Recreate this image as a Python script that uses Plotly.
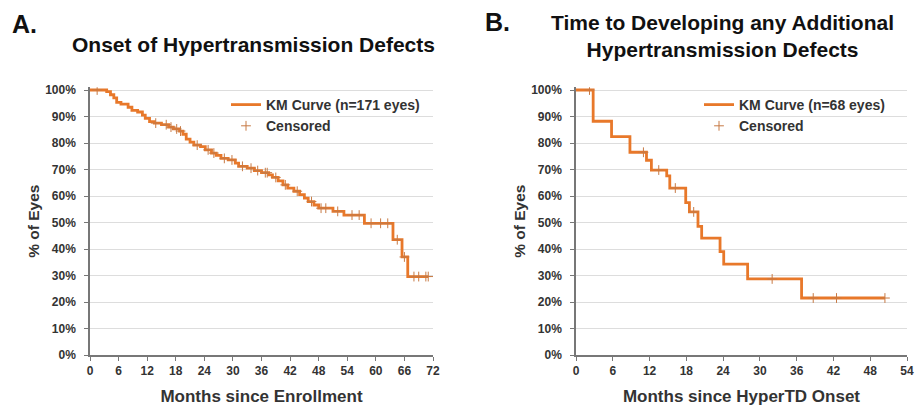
import plotly.graph_objects as go
import numpy as np

# ---- Panel A data (KM curve, n=171 eyes) ----
a_times = [0, 3.5, 4.3, 5.0, 5.6, 6.5, 8.0, 8.8, 10.0, 11.0, 11.6, 12.5, 13.5, 15.0, 16.5, 17.5,
           18.8, 19.5, 20.2, 21.0, 21.8, 23.2, 24.2, 25.5, 26.5, 27.5, 29.0, 30.5, 31.2, 33.0,
           34.5, 36.0, 37.5, 38.3, 39.5, 40.5, 41.5, 42.8, 44.0, 45.0, 45.8, 47.0, 48.0, 51.0,
           53.3, 57.6, 63.6, 65.5, 66.7]
a_surv = [100, 99.4, 98.2, 97.0, 95.3, 94.7, 93.5, 92.3, 91.7, 90.5, 89.3, 88.1, 87.5, 86.9, 86.0, 85.3,
          84.5, 83.3, 81.5, 80.3, 79.2, 78.6, 77.4, 76.2, 75.3, 74.2, 73.6, 72.4, 71.2, 70.5,
          69.6, 68.8, 68.0, 67.0, 65.7, 64.2, 63.0, 61.8, 60.5, 59.2, 57.9, 56.6, 55.4, 54.2,
          52.8, 49.7, 43.5, 37.0, 29.6]
a_end = 71.0
a_cens = [1.5, 13.8, 16.0, 17.0, 18.2, 19.0, 22.5, 24.8, 26.0, 28.2, 29.8, 32.0, 33.8, 35.2, 36.8,
          37.2, 39.0, 41.0, 43.5, 46.5, 48.5, 49.5, 52.0, 55.0, 56.5, 59.0, 61.0, 62.5, 64.5,
          66.0, 68.0, 69.0, 70.5, 71.0]

# ---- Panel B data (KM curve, n=68 eyes) ----
b_times = [0, 2.8, 5.8, 8.8, 11.5, 12.3, 14.8, 15.3, 17.9, 18.5, 19.9, 20.5, 23.5, 24.1, 28.0, 36.8]
b_surv = [100, 88.2, 82.4, 76.5, 73.5, 69.8, 67.6, 63.0, 57.5, 54.0, 48.5, 44.1, 39.0, 34.3, 28.7, 21.5]
b_end = 50.4
b_cens = [2.2, 11.0, 13.5, 16.2, 19.2, 32.0, 38.7, 42.5, 50.4]

a_ticks = list(range(0, 73, 6))
b_ticks = list(range(0, 55, 6))
y_ticks = list(range(0, 101, 10))
y_labels = [f"{v}%" for v in y_ticks]

ORANGE = "#E8782A"
CENS = "#C77A45"
FONT = "Liberation Sans, Arial, sans-serif"
TXT = "#333333"


def surv_at(times, surv, t):
    idx = np.searchsorted(times, t, side="right") - 1
    return surv[idx]


fig = go.Figure()

# Panel A
fig.add_trace(go.Scatter(x=a_times + [a_end], y=a_surv + [a_surv[-1]], mode="lines",
                         line=dict(color=ORANGE, width=2.8, shape="hv"),
                         name="KM Curve (n=171 eyes)", legend="legend", xaxis="x", yaxis="y"))
fig.add_trace(go.Scatter(x=a_cens, y=[surv_at(a_times, a_surv, t) for t in a_cens], mode="markers",
                         marker=dict(symbol="cross-thin", size=7, line=dict(color=CENS, width=1)),
                         name="Censored", legend="legend", xaxis="x", yaxis="y"))

# Panel B
fig.add_trace(go.Scatter(x=b_times + [b_end], y=b_surv + [b_surv[-1]], mode="lines",
                         line=dict(color=ORANGE, width=2.8, shape="hv"),
                         name="KM Curve (n=68 eyes)", legend="legend2", xaxis="x2", yaxis="y2"))
fig.add_trace(go.Scatter(x=b_cens, y=[surv_at(b_times, b_surv, t) for t in b_cens], mode="markers",
                         marker=dict(symbol="cross-thin", size=7, line=dict(color=CENS, width=1)),
                         name="Censored", legend="legend2", xaxis="x2", yaxis="y2"))

W, H = 921, 409
y_bot, y_top = 355, 90
ytop_val = 101
y_dom_top = (H - (y_bot - (y_bot - y_top) * ytop_val / 100)) / H
y_dom = [(H - y_bot) / H, y_dom_top]

tickfont = dict(family=FONT, size=12, color=TXT, weight="bold")

def xaxis(domain, ticks, rng, title, anchor):
    return dict(domain=domain, range=rng, tickvals=ticks, ticktext=[str(t) for t in ticks],
                showgrid=False, zeroline=False, showline=True, linecolor="#777777", linewidth=1.5,
                ticks="outside", ticklen=4, tickcolor="#777777", tickfont=tickfont, automargin=False,
                title=dict(text=title, font=dict(family=FONT, size=17, color=TXT, weight="bold"), standoff=13),
                anchor=anchor)

def yaxis(anchor):
    return dict(domain=y_dom, range=[0, ytop_val], tickvals=y_ticks, ticktext=y_labels,
                showgrid=True, gridcolor="#DDDDDD", gridwidth=1, zeroline=False,
                showline=True, linecolor="#777777", linewidth=1.5, ticks="outside", ticklen=4,
                tickcolor="#777777", tickfont=tickfont, ticklabelstandoff=6, automargin=False,
                title=dict(text="% of Eyes", font=dict(family=FONT, size=15.5, color=TXT, weight="bold"),
                           standoff=2), anchor=anchor)

legfont = dict(family=FONT, size=14, color=TXT, weight="bold")

fig.update_layout(
    width=W, height=H, margin=dict(l=0, r=0, t=0, b=0, autoexpand=False),
    paper_bgcolor="white", plot_bgcolor="white",
    xaxis=xaxis([90 / W, 433 / W], a_ticks, [0, 72], "Months since Enrollment", "y"),
    yaxis=yaxis("x"),
    xaxis2=xaxis([576 / W, 907 / W], b_ticks, [0, 54], "Months since HyperTD Onset", "y2"),
    yaxis2=yaxis("x2"),
    legend=dict(x=226 / W, y=1 - 89 / H, xanchor="left", yanchor="top", bgcolor="rgba(0,0,0,0)",
                font=legfont, tracegroupgap=0, itemwidth=30),
    legend2=dict(x=699 / W, y=1 - 89 / H, xanchor="left", yanchor="top", bgcolor="rgba(0,0,0,0)",
                 font=legfont, tracegroupgap=0, itemwidth=30),
    showlegend=True,
    annotations=[
        dict(text="A.", x=10 / W, y=1 - 24 / H, xref="paper", yref="paper", xanchor="left", yanchor="middle",
             showarrow=False, font=dict(family=FONT, size=25, color="#111111", weight="bold")),
        dict(text="Onset of Hypertransmission Defects", x=253 / W, y=1 - 44 / H, xref="paper", yref="paper",
             xanchor="center", yanchor="middle", showarrow=False,
             font=dict(family=FONT, size=21, color="#111111", weight="bold")),
        dict(text="B.", x=483 / W, y=1 - 22 / H, xref="paper", yref="paper", xanchor="left", yanchor="middle",
             showarrow=False, font=dict(family=FONT, size=25, color="#111111", weight="bold")),
        dict(text="Time to Developing any Additional<br>Hypertransmission Defects", x=722 / W, y=1 - 36 / H,
             xref="paper", yref="paper", xanchor="center", yanchor="middle", showarrow=False,
             font=dict(family=FONT, size=21, color="#111111", weight="bold"), align="center"),
    ],
)

fig.write_html("out.html", config={"displayModeBar": False},
               post_script="document.body.style.margin='0';document.body.style.overflow='hidden';")
